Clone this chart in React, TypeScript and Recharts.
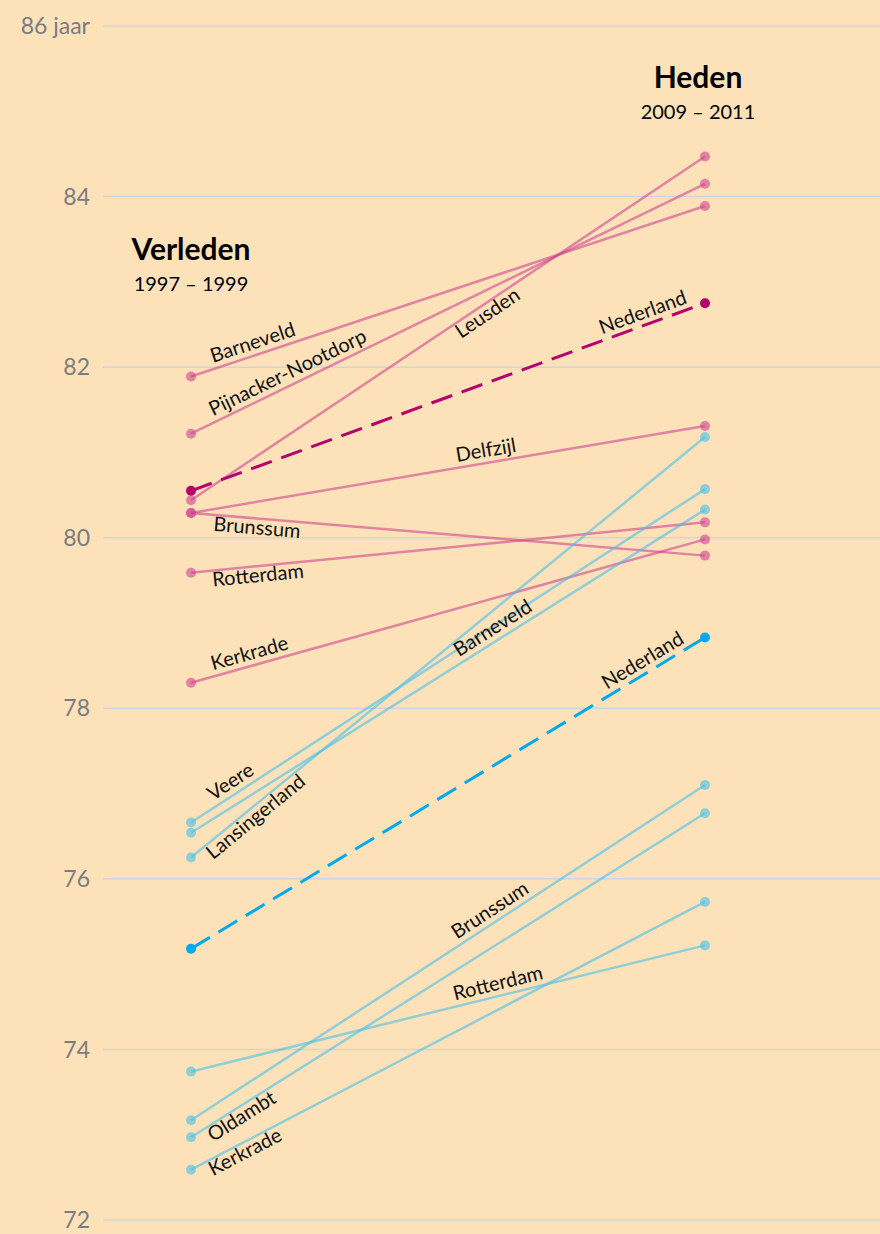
import { LineChart, Line, XAxis, YAxis, CartesianGrid, ReferenceDot } from "recharts";

// levensverwachting bij geboorte, per gemeente
const periods = ["Verleden", "Heden"];
const periodYears = ["1997 – 1999", "2009 – 2011"];
const yTicks = [72, 74, 76, 78, 80, 82, 84, 86];

const womenNames = ["Barneveld", "Pijnacker-Nootdorp", "Leusden", "Delfzijl", "Brunssum", "Rotterdam", "Kerkrade"];
const womenPast = [81.89, 81.22, 80.44, 80.29, 80.29, 79.59, 78.3];
const womenNow = [83.89, 84.15, 84.47, 81.31, 79.79, 80.18, 79.98];
const womenNL = [80.55, 82.75];

const menNames = ["Veere", "Barneveld", "Lansingerland", "Rotterdam", "Brunssum", "Oldambt", "Kerkrade"];
const menPast = [76.66, 76.54, 76.25, 73.74, 73.17, 72.97, 72.59];
const menNow = [80.57, 80.33, 81.18, 75.22, 77.1, 76.77, 75.73];
const menNL = [75.18, 78.83];

// where each name sits: px right of the left dot, above or below its line
type Place = { along: number; side: "above" | "below" };
const womenPlaces: Place[] = [
  { along: 22, side: "above" },
  { along: 22, side: "above" },
  { along: 270, side: "below" },
  { along: 266, side: "above" },
  { along: 22, side: "below" },
  { along: 22, side: "below" },
  { along: 22, side: "above" },
];
const menPlaces: Place[] = [
  { along: 22, side: "above" },
  { along: 268, side: "above" },
  { along: 22, side: "below" },
  { along: 264, side: "above" },
  { along: 266, side: "above" },
  { along: 22, side: "below" },
  { along: 22, side: "below" },
];
const womenNLPlace: Place = { along: 411, side: "above" };
const menNLPlace: Place = { along: 416, side: "above" };

const BG = "#FDE2B9";
const PINK = "#CF4490";
const BLUE = "#48C2EB";
const NL_PINK = "#B5006E";
const NL_BLUE = "#00AAEC";
const FONT = "Lato, 'Open Sans', sans-serif";

const data = periods.map((p, i) => {
  const row: Record<string, any> = { period: p };
  womenNames.forEach((_, k) => (row[`w${k}`] = (i === 0 ? womenPast : womenNow)[k]));
  menNames.forEach((_, k) => (row[`m${k}`] = (i === 0 ? menPast : menNow)[k]));
  row.wNL = womenNL[i];
  row.mNL = menNL[i];
  return row;
});

function makeDot(color: string, opacity: number, name: string, place: Place) {
  return (p: any) => {
    const { cx, cy, index, points } = p;
    let label = null;
    if (index === 0 && points && points.length > 1) {
      const a = points[0];
      const b = points[1];
      const ang = Math.atan2(b.y - a.y, b.x - a.x);
      const dy = place.side === "above" ? -6 : 16;
      const nx = -Math.sin(ang) * dy;
      const ny = Math.cos(ang) * dy;
      const ox = a.x + place.along;
      const px = ox - nx;
      const py = a.y + ((px - a.x) / (b.x - a.x)) * (b.y - a.y);
      const oy = py + ny;
      label = (
        <text
          x={ox}
          y={oy}
          transform={`rotate(${(ang * 180) / Math.PI} ${ox} ${oy})`}
          fontFamily={FONT}
          fontSize={20}
          fill="#111"
        >
          {name}
        </text>
      );
    }
    return (
      <g key={`dot-${index}`}>
        <circle cx={cx} cy={cy} r={5} fill={color} fillOpacity={opacity} />
        {label}
      </g>
    );
  };
}

function periodTitle(title: string, years: string, dx: number) {
  return (p: any) => {
    const vb = p.viewBox || {};
    const x = (vb.x ?? 0) + (vb.width ?? 0) / 2 + dx;
    const y = (vb.y ?? 0) + (vb.height ?? 0) / 2;
    return (
      <g>
        <text x={x} y={y} textAnchor="middle" fontFamily={FONT} fontWeight={700} fontSize={30} fill="#000">
          {title}
        </text>
        <text x={x} y={y + 31} textAnchor="middle" fontFamily={FONT} fontSize={20} fill="#000">
          {years}
        </text>
      </g>
    );
  };
}

export default function App() {
  return (
    <div style={{ width: 880, height: 1234, background: BG }}>
      <style>{`body{margin:0;background:${BG}}`}</style>
      <LineChart width={880} height={1234} data={data} margin={{ top: 26, right: 0, bottom: 14, left: 0 }}>
        <CartesianGrid vertical={false} stroke="#D3D3DC" strokeWidth={1.5} />
        <XAxis dataKey="period" hide padding={{ left: 88, right: 175 }} />
        <YAxis
          domain={[72, 86]}
          ticks={yTicks}
          interval={0}
          width={103}
          axisLine={false}
          tickLine={false}
          tickSize={0}
          tickMargin={13}
          tickFormatter={(v: number) => (v === 86 ? "86 jaar" : String(v))}
          tick={{ fontFamily: FONT, fontSize: 23, fill: "#7B7B82" }}
        />
        {womenNames.map((n, k) => (
          <Line
            key={`w${k}`}
            dataKey={`w${k}`}
            stroke={PINK}
            strokeOpacity={0.6}
            strokeWidth={2.5}
            dot={makeDot(PINK, 0.6, n, womenPlaces[k])}
            activeDot={false}
            isAnimationActive={false}
          />
        ))}
        {menNames.map((n, k) => (
          <Line
            key={`m${k}`}
            dataKey={`m${k}`}
            stroke={BLUE}
            strokeOpacity={0.6}
            strokeWidth={2.5}
            dot={makeDot(BLUE, 0.6, n, menPlaces[k])}
            activeDot={false}
            isAnimationActive={false}
          />
        ))}
        <Line
          dataKey="wNL"
          stroke={NL_PINK}
          strokeWidth={3}
          strokeDasharray="22 10"
          dot={makeDot(NL_PINK, 1, "Nederland", womenNLPlace)}
          activeDot={false}
          isAnimationActive={false}
        />
        <Line
          dataKey="mNL"
          stroke={NL_BLUE}
          strokeWidth={3}
          strokeDasharray="22 10"
          dot={makeDot(NL_BLUE, 1, "Nederland", menNLPlace)}
          activeDot={false}
          isAnimationActive={false}
        />
        <ReferenceDot
          x={periods[0]}
          y={83.26}
          r={0}
          fill="none"
          stroke="none"
          label={periodTitle(periods[0], periodYears[0], 0)}
        />
        <ReferenceDot
          x={periods[1]}
          y={85.27}
          r={0}
          fill="none"
          stroke="none"
          label={periodTitle(periods[1], periodYears[1], -7)}
        />
      </LineChart>
    </div>
  );
}
